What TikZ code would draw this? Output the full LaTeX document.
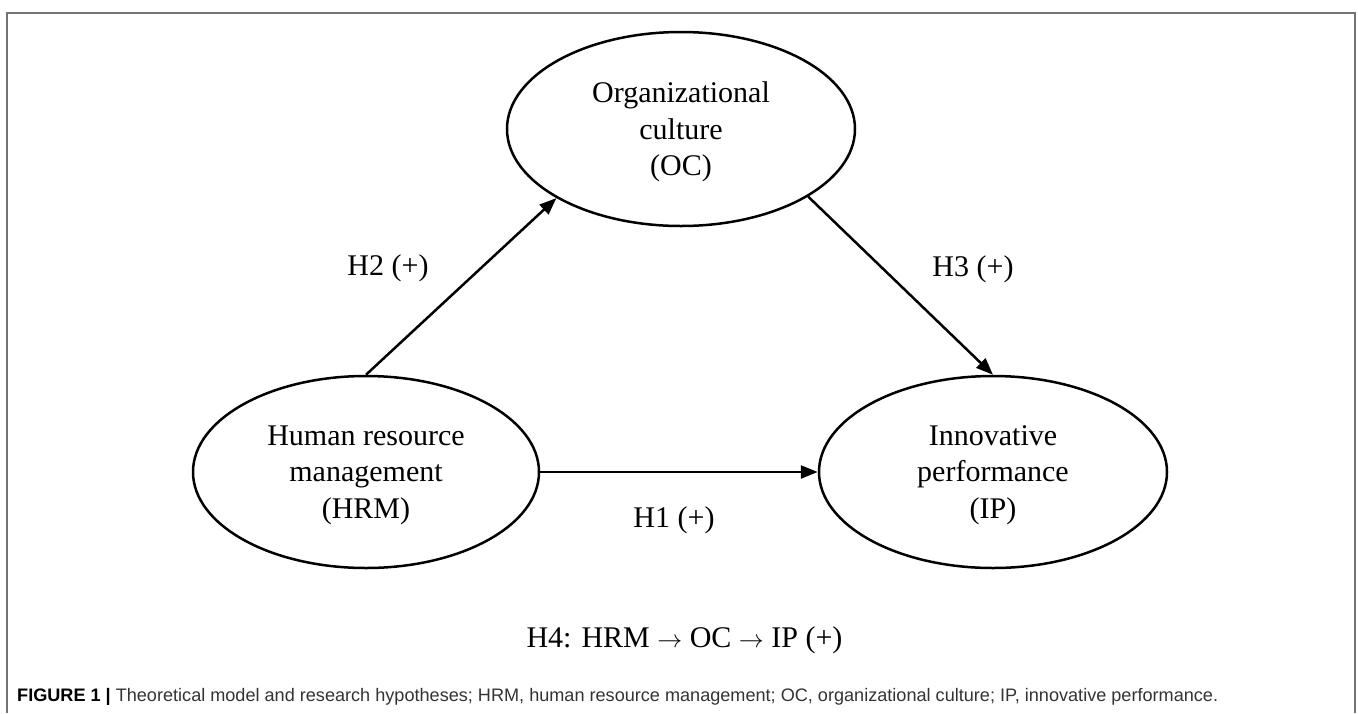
\documentclass[tikz,border=0pt]{standalone}
\usepackage{fontspec}
\setmainfont{Liberation Serif}
\newfontfamily\capfont{Liberation Sans}
\usetikzlibrary{shapes.geometric,arrows.meta}
\begin{document}
\begin{tikzpicture}[x=1pt,y=-1pt,
  construct/.style={ellipse, draw, line width=2.5pt, inner sep=0pt, align=center,
    text depth=0pt, font=\fontsize{30}{36.5}\selectfont},
  link/.style={line width=2.5pt, -{Triangle[length=17pt,width=13pt]}},
  hyp/.style={anchor=base, inner sep=0pt, font=\fontsize{30}{36.5}\selectfont},
  frameline/.style={line width=1.8pt, draw=black!55}]
\useasboundingbox (0,0) rectangle (1358,713);
\draw[frameline] (7,713) -- (7,13) -- (1355,13) -- (1355,713);

\node[construct, minimum width=348pt, minimum height=194pt] (OC) at (681,129) {Organizational\\culture\\(OC)};
\node[construct, minimum width=346pt, minimum height=192pt] (HRM) at (366,472) {Human resource\\management\\(HRM)};
\node[construct, minimum width=348pt, minimum height=192pt] (IP) at (993,472) {Innovative\\performance\\(IP)};

\draw[link] (HRM.east) -- (IP.west);
\draw[link] (HRM.north) -- (OC.209);
\draw[link] (OC.332) -- (IP.north);

\node[hyp] (h2) at (388,275) {H2 (+)};
\node[hyp] (h3) at (973,276) {H3 (+)};
\node[hyp] (h1) at (674,527) {H1 (+)};
\node[hyp] (h4) at (684.5,647) {H4: HRM $\rightarrow$ OC $\rightarrow$ IP (+)};

\node[anchor=base west, inner sep=0pt, text=black!80] (cap) at (17,701)
  {\resizebox{1201pt}{!}{\capfont\fontsize{18}{22}\selectfont\textbf{\color{black}FIGURE 1 |} Theoretical model and research hypotheses; HRM, human resource management; OC, organizational culture; IP, innovative performance.}};
\end{tikzpicture}
\end{document}
